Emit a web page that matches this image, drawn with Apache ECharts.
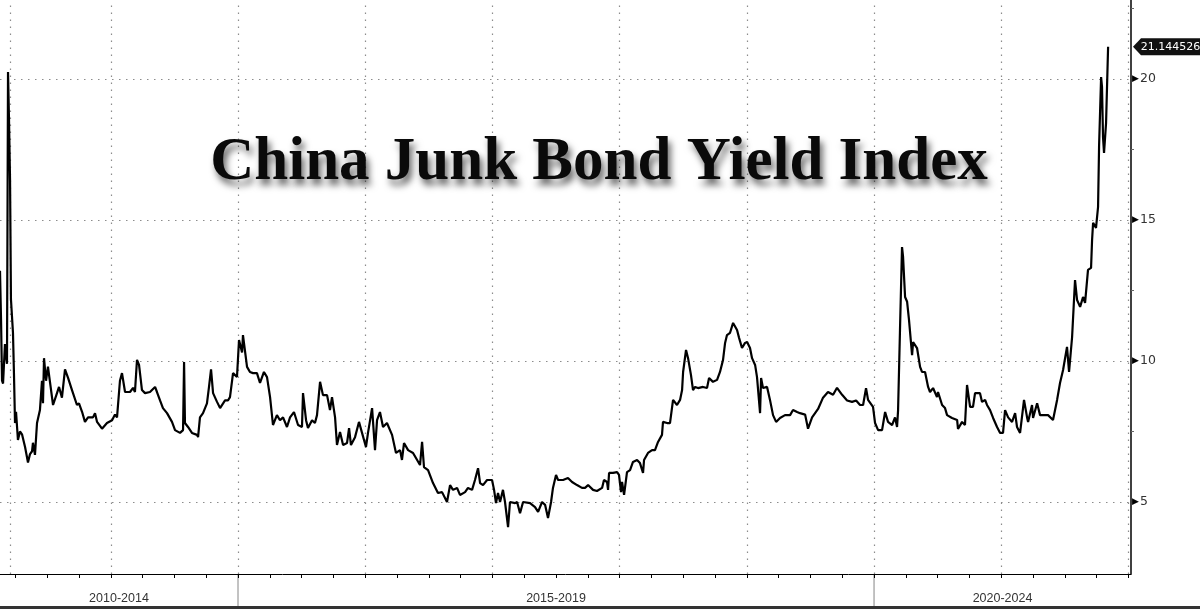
<!DOCTYPE html>
<html>
<head>
<meta charset="utf-8">
<script src="https://cdn.jsdelivr.net/npm/echarts@6/dist/echarts.min.js"></script>
<style>
html,body{margin:0;padding:0;background:#fff;}
#c{width:1200px;height:609px;}
</style>
</head>
<body>
<div id="c"></div>
<script>
// ---- data (decimal years, yield %) ----
var years = [2013.129,2013.137,2013.145,2013.153,2013.168,2013.176,2013.184,2013.192,2013.200,2013.208,2013.215,2013.231,2013.239,2013.247,2013.255,2013.270,2013.286,2013.302,2013.326,2013.349,2013.365,2013.381,2013.388,2013.404,2013.420,2013.443,2013.459,2013.467,2013.475,2013.491,2013.506,2013.522,2013.546,2013.577,2013.593,2013.616,2013.640,2013.664,2013.695,2013.734,2013.750,2013.774,2013.797,2013.821,2013.860,2013.876,2013.892,2013.931,2013.970,2014.010,2014.033,2014.049,2014.072,2014.088,2014.112,2014.151,2014.175,2014.190,2014.206,2014.222,2014.245,2014.269,2014.308,2014.348,2014.363,2014.387,2014.410,2014.442,2014.481,2014.505,2014.544,2014.568,2014.576,2014.583,2014.607,2014.638,2014.678,2014.686,2014.701,2014.725,2014.756,2014.772,2014.788,2014.804,2014.835,2014.859,2014.898,2014.921,2014.937,2014.961,2014.992,2015.008,2015.032,2015.039,2015.071,2015.094,2015.118,2015.149,2015.173,2015.204,2015.228,2015.252,2015.275,2015.306,2015.330,2015.354,2015.385,2015.409,2015.440,2015.472,2015.503,2015.511,2015.535,2015.550,2015.582,2015.605,2015.621,2015.645,2015.668,2015.700,2015.723,2015.739,2015.763,2015.778,2015.802,2015.826,2015.857,2015.873,2015.888,2015.920,2015.951,2015.975,2016.006,2016.022,2016.054,2016.061,2016.077,2016.093,2016.116,2016.140,2016.171,2016.211,2016.242,2016.274,2016.289,2016.305,2016.337,2016.376,2016.431,2016.447,2016.462,2016.494,2016.533,2016.572,2016.604,2016.643,2016.667,2016.690,2016.722,2016.745,2016.785,2016.808,2016.840,2016.863,2016.887,2016.903,2016.926,2016.958,2016.997,2017.013,2017.028,2017.044,2017.060,2017.083,2017.099,2017.123,2017.138,2017.178,2017.194,2017.217,2017.241,2017.296,2017.335,2017.359,2017.390,2017.414,2017.437,2017.461,2017.476,2017.500,2017.516,2017.555,2017.594,2017.626,2017.665,2017.704,2017.728,2017.752,2017.791,2017.822,2017.862,2017.877,2017.901,2017.909,2017.917,2017.948,2017.980,2017.995,2018.011,2018.019,2018.035,2018.058,2018.082,2018.105,2018.137,2018.160,2018.184,2018.192,2018.223,2018.255,2018.278,2018.302,2018.333,2018.341,2018.373,2018.396,2018.420,2018.451,2018.475,2018.491,2018.499,2018.522,2018.538,2018.561,2018.577,2018.593,2018.616,2018.656,2018.687,2018.703,2018.734,2018.766,2018.789,2018.813,2018.829,2018.844,2018.868,2018.892,2018.923,2018.939,2018.962,2018.986,2019.002,2019.025,2019.041,2019.065,2019.080,2019.104,2019.112,2019.127,2019.159,2019.182,2019.206,2019.230,2019.261,2019.300,2019.340,2019.363,2019.395,2019.418,2019.458,2019.481,2019.513,2019.560,2019.599,2019.638,2019.678,2019.709,2019.749,2019.788,2019.827,2019.859,2019.890,2019.914,2019.937,2019.953,2019.992,2020.008,2020.032,2020.063,2020.087,2020.110,2020.142,2020.165,2020.181,2020.189,2020.204,2020.220,2020.228,2020.244,2020.260,2020.275,2020.299,2020.307,2020.338,2020.362,2020.377,2020.401,2020.425,2020.440,2020.464,2020.495,2020.503,2020.535,2020.558,2020.574,2020.613,2020.653,2020.660,2020.692,2020.715,2020.731,2020.755,2020.778,2020.794,2020.833,2020.849,2020.873,2020.888,2020.912,2020.936,2020.967,2020.991,2021.014,2021.030,2021.054,2021.085,2021.109,2021.124,2021.148,2021.179,2021.203,2021.211,2021.242,2021.250,2021.282,2021.305,2021.329,2021.368,2021.407,2021.439,2021.462,2021.486,2021.517,2021.533,2021.557,2021.580,2021.596,2021.620,2021.643,2021.659,2021.682,2021.706,2021.714,2021.722,2021.745,2021.761,2021.769,2021.785,2021.792,2021.800,2021.808,2021.824,2021.840];
var yields = [13.2,11.5,9.3,9.2,10.6,10.2,9.9,20.25,18.5,16.4,12.2,11.0,9.5,7.8,8.2,7.2,7.5,7.4,6.95,6.4,6.7,6.8,7.1,6.67,7.8,8.26,9.3,8.5,10.1,9.3,9.8,9.25,8.44,8.86,9.08,8.7,9.7,9.4,8.97,8.44,8.5,8.2,7.84,8.0,8.0,8.15,7.84,7.6,7.8,7.9,8.1,8.0,9.3,9.57,8.9,8.9,9.05,8.9,10.04,9.86,8.97,8.86,8.9,9.08,8.9,8.6,8.33,8.15,7.84,7.55,7.45,7.55,9.96,7.8,7.66,7.45,7.38,7.3,8.0,8.15,8.5,9.08,9.7,8.86,8.55,8.33,8.6,8.6,8.72,9.57,9.43,10.74,10.3,10.92,9.79,9.61,9.57,9.57,9.22,9.61,9.43,8.72,7.73,8.08,7.9,8.0,7.66,8.0,8.19,7.73,7.66,8.86,7.9,7.62,7.9,7.8,8.08,9.26,8.79,8.79,8.26,8.72,8.0,7.02,7.48,7.02,7.09,7.62,7.02,7.3,7.84,7.45,6.95,7.45,8.33,8.37,6.84,7.9,8.19,7.66,7.8,7.38,6.74,6.84,6.49,7.09,6.84,6.74,6.31,7.13,6.24,6.13,5.67,5.32,5.35,5.0,5.6,5.43,5.5,5.25,5.35,5.5,5.43,5.78,6.2,5.67,5.6,5.78,5.78,5.43,4.96,5.32,5.0,5.43,5.0,4.11,5.0,4.96,5.0,4.6,5.0,4.96,4.82,4.65,5.0,4.9,4.43,5.0,5.5,5.96,5.78,5.78,5.85,5.71,5.6,5.5,5.5,5.6,5.43,5.39,5.5,5.78,5.71,5.43,6.03,6.03,6.06,5.96,5.35,5.71,5.25,6.06,6.13,6.42,6.49,6.38,6.03,6.49,6.74,6.84,6.84,7.13,7.38,7.84,7.8,7.8,8.62,8.44,8.62,8.97,9.61,10.39,10.1,9.5,8.97,9.08,9.04,9.08,9.04,9.4,9.26,9.33,9.61,10.04,10.64,10.92,11.0,11.35,11.1,10.82,10.46,10.64,10.67,10.46,10.1,9.86,9.43,8.15,9.4,9.04,9.08,8.62,8.08,7.84,7.98,8.08,8.08,8.26,8.19,8.15,8.1,7.6,8.0,8.3,8.7,8.9,8.8,9.05,8.8,8.6,8.55,8.6,8.44,8.44,9.04,8.62,8.37,7.8,7.55,7.55,8.19,7.84,7.73,8.0,7.66,8.26,11.1,14.04,13.7,12.27,12.1,11.45,10.21,10.67,10.46,9.79,9.61,9.61,9.08,8.9,9.04,8.72,8.9,8.44,8.33,8.08,7.98,7.91,7.59,7.84,7.73,9.15,8.37,8.37,8.86,8.86,8.55,8.62,8.44,8.26,7.98,7.66,7.45,7.45,8.26,8.0,7.84,8.15,7.66,7.45,8.62,8.0,7.84,8.44,7.98,8.5,8.08,8.08,8.08,7.91,8.62,9.22,9.68,10.5,9.61,10.85,12.87,12.16,11.92,12.27,12.06,13.23,13.3,14.29,14.9,14.72,15.46,17.6,20.07,19.72,17.94,17.38,18.44,21.144526];
var lastValueText = '21.144526';
var titleText = 'China Junk Bond Yield Index';
var yLabelValues = [5, 10, 15, 20];
var yMinorTicks = [7.5, 12.5, 17.5, 22.5];
var xGridYears = [2013.215, 2014, 2015, 2016, 2017, 2018, 2019, 2020, 2021, 2022];
var periodLabels = ['2010-2014', '2015-2019', '2020-2024'];
var periodBounds = [2010, 2015, 2020, 2025];
var xMin = 2013.129, xMax = 2022.02;
var yMin = 2.447, yMax = 22.8;

var quarterTicks = [];
for (var q = 2013.25; q <= 2022.001; q += 0.25) quarterTicks.push(Math.round(q * 100) / 100);

var points = years.map(function (y, i) { return [y, yields[i]]; });

var chart = echarts.init(document.getElementById('c'), null, { renderer: 'canvas' });
var dotted = { type: [1.5, 5.5], color: '#8c8c8c', width: 1.2 };
var markData = yLabelValues.map(function (v) { return { yAxis: v }; })
  .concat(xGridYears.map(function (v) { return { xAxis: v }; }));

chart.setOption({
  animation: false,
  backgroundColor: '#ffffff',
  grid: { left: 0, right: 69, top: 0, bottom: 35, containLabel: false },
  xAxis: {
    type: 'value', min: xMin, max: xMax,
    axisLine: { show: true, lineStyle: { color: '#000', width: 1 } },
    axisTick: { show: true, customValues: quarterTicks, length: 4, inside: false, lineStyle: { color: '#000' } },
    axisLabel: { show: false },
    splitLine: { show: false }
  },
  yAxis: {
    type: 'value', position: 'right', min: yMin, max: yMax,
    axisLine: { show: true, onZero: false, lineStyle: { color: '#000', width: 1.5 } },
    axisTick: { show: true, customValues: yMinorTicks, length: 3, lineStyle: { color: '#666' } },
    axisLabel: {
      show: true, customValues: yLabelValues, margin: 1,
      formatter: function (v) { return '{t|\u25B6}{v|' + v + '}'; },
      rich: {
        t: { fontSize: 9, color: '#000', padding: [0, 1, 0, 0] },
        v: { fontSize: 12.5, color: '#333', fontFamily: 'DejaVu Sans' }
      }
    },
    splitLine: { show: false }
  },
  series: [{
    type: 'line',
    data: points,
    showSymbol: false,
    symbol: 'none',
    lineStyle: { color: '#000', width: 2.2 },
    z: 5,
    markLine: {
      silent: true, symbol: 'none', label: { show: false },
      lineStyle: dotted,
      emphasis: { disabled: true },
      data: markData
    }
  }]
});

function buildGraphics() {
  var g = [];
  var bottomY = chart.convertToPixel({ yAxisIndex: 0 }, yMin);
  var rightX = chart.convertToPixel({ xAxisIndex: 0 }, xMax);
  for (var i = 0; i < periodLabels.length; i++) {
    var a = Math.max(periodBounds[i], xMin), b = Math.min(periodBounds[i + 1], xMax);
    var xa = chart.convertToPixel({ xAxisIndex: 0 }, a);
    var xb = chart.convertToPixel({ xAxisIndex: 0 }, b);
    g.push({
      type: 'text', x: (xa + xb) / 2, y: bottomY + 25,
      style: { text: periodLabels[i], fill: '#333', font: '12.5px "Liberation Sans"', textAlign: 'center', textVerticalAlign: 'middle' }
    });
    if (i > 0) {
      g.push({
        type: 'line', shape: { x1: xa, y1: bottomY, x2: xa, y2: 606 },
        style: { stroke: '#9a9a9a', lineWidth: 1.2 }
      });
    }
  }
  g.push({ type: 'rect', shape: { x: 0, y: 606, width: 1200, height: 3 }, style: { fill: '#333' } });
  g.push({
    type: 'text', x: 599, y: 163, z: 10,
    style: {
      text: titleText, fill: '#0a0a0a', font: 'bold 61px "Liberation Serif"',
      textAlign: 'center', textVerticalAlign: 'middle',
      textShadowColor: 'rgba(0,0,0,0.6)', textShadowBlur: 7, textShadowOffsetX: 3, textShadowOffsetY: 6,
      shadowColor: 'rgba(0,0,0,0.6)', shadowBlur: 7, shadowOffsetX: 3, shadowOffsetY: 6
    }
  });
  var yc = chart.convertToPixel({ yAxisIndex: 0 }, yields[yields.length - 1]);
  var ax = rightX + 2;
  g.push({
    type: 'polygon', z: 10,
    shape: { points: [[ax, yc], [ax + 8, yc - 8.5], [1200, yc - 8.5], [1200, yc + 8.5], [ax + 8, yc + 8.5]] },
    style: { fill: '#111' }
  });
  g.push({
    type: 'text', z: 11, x: ax + 8 + (1200 - ax - 8) / 2, y: yc,
    style: { text: lastValueText, fill: '#fff', font: '11px "DejaVu Sans"', textAlign: 'center', textVerticalAlign: 'middle' }
  });
  chart.setOption({ graphic: g });
}
buildGraphics();
</script>
</body>
</html>
